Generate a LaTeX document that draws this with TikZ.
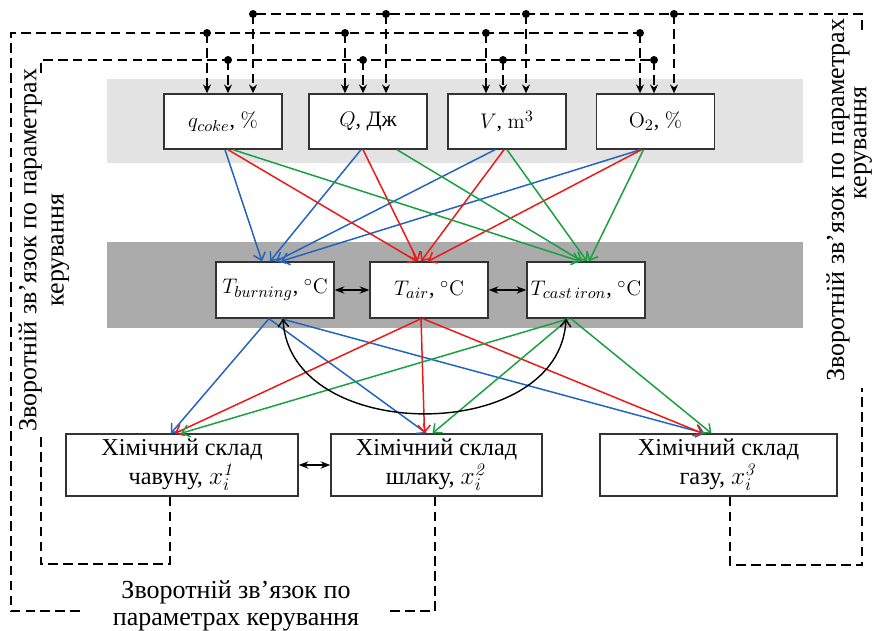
\documentclass[tikz,border=0pt]{standalone}
\usepackage[no-math]{fontspec}
\setmainfont{Liberation Serif}
\usetikzlibrary{arrows.meta,calc}
\definecolor{bandlight}{RGB}{227,227,227}
\definecolor{banddark}{RGB}{171,171,171}
\definecolor{lnblue}{RGB}{35,100,190}
\definecolor{lnred}{RGB}{235,25,25}
\definecolor{lngreen}{RGB}{25,160,65}

\begin{document}
\begin{tikzpicture}[x=0.02cm,y=-0.02cm,
  font=\fontsize{14.8}{15.5}\selectfont,
  box/.style={draw=black!80, line width=0.8pt, fill=white,
    minimum width=2.36cm, minimum height=1.1cm, inner sep=2pt,
    font=\fontsize{12.5}{14}\selectfont},
  mid box/.style={box, minimum height=1.12cm},
  wide box/.style={box, minimum height=1.24cm, align=center,
    font=\fontsize{13.8}{14.5}\selectfont},
  fb line/.style={line width=1pt, dash pattern=on 5.5pt off 3pt},
  fb arrow/.style={fb line, -{Stealth[length=5pt,width=4.5pt]}},
  link/.style={line width=0.85pt, -{Straight Barb[length=4pt,width=7pt]}},
  both/.style={line width=1.3pt, {Stealth[length=5.5pt]}-{Stealth[length=5.5pt]}},
  ]
  \useasboundingbox (0,0) rectangle (878,631);

  % bands
  \fill[bandlight] (107,79) rectangle (803,163);
  \fill[banddark] (107,242) rectangle (803,328);

  % control parameters
  \node[box] (qc) at (223,121.5) {$q_{coke}$, $\%$};
  \node[box] (Qh) at (368,121.5) {$Q$, Дж};
  \node[box] (Vm) at (507,121.5) {$V$, $\mathrm{m}^3$};
  \node[box] (Ox) at (655.5,121.5) {$\mathrm{O}_2$, $\%$};

  % temperatures
  \node[mid box] (Tb) at (275,290) {$T_{burning}$, ${}^\circ\mathrm{C}$};
  \node[mid box] (Ta) at (429,290) {$T_{air}$, ${}^\circ\mathrm{C}$};
  \node[mid box] (Tc) at (586,290) {$T_{cast\,iron}$, ${}^\circ\mathrm{C}$};

  % chemical composition
  \node[wide box, minimum width=4.64cm] (X1) at (182,465) {Хімічний склад\\[2pt]чавуну, $x_i^{\mathit{1}}$};
  \node[wide box, minimum width=4.22cm] (X2) at (436.5,465) {Хімічний склад\\[2pt]шлаку, $x_i^{\mathit{2}}$};
  \node[wide box, minimum width=4.74cm] (X3) at (718.5,465) {Хімічний склад\\[2pt]газу, $x_i^{\mathit{3}}$};

  % parameters -> temperatures
  \foreach \src/\dx/\tx in {qc/2/-13, Qh/-7/-5, Vm/-12/1, Ox/-15/6}
    \draw[link, lnblue] ($(\src.south)+(\dx,0)$) -- ($(Tb.north)+(\tx,0)$);
  \foreach \src/\dx/\tx in {qc/5/-12, Qh/-5/-11, Vm/-3/-8, Ox/-14/-1}
    \draw[link, lnred] ($(\src.south)+(\dx,0)$) -- ($(Ta.north)+(\tx,0)$);
  \foreach \src/\dx/\tx in {qc/10/-6, Qh/29/-4, Vm/0/1, Ox/-12/3}
    \draw[link, lngreen] ($(\src.south)+(\dx,0)$) -- ($(Tc.north)+(\tx,0)$);

  % temperatures -> composition
  \foreach \dst/\dx/\tx in {X1/-6/-11, X2/-6/-10, X3/6/-14}
    \draw[link, lnblue] ($(Tb.south)+(\dx,0)$) -- ($(\dst.north)+(\tx,0)$);
  \foreach \dst/\dx/\tx in {X1/-8/-7, X2/-8/-12, X3/-6/-16}
    \draw[link, lnred] ($(Ta.south)+(\dx,0)$) -- ($(\dst.north)+(\tx,0)$);
  \foreach \dst/\dx/\tx in {X1/-17/-1, X2/-17/-4, X3/-15/-7}
    \draw[link, lngreen] ($(Tc.south)+(\dx,0)$) -- ($(\dst.north)+(\tx,0)$);

  \draw[line width=0.8pt, {Straight Barb[length=4pt,width=6pt]}-{Straight Barb[length=4pt,width=6pt]}]
    ($(Tb.south)+(8,0)$) .. controls (290,445) and (560,445) .. ($(Tc.south)+(-20,0)$);

  \draw[both] (Tb.east) -- (Ta.west);
  \draw[both] (Ta.east) -- (Tc.west);
  \draw[both] (X1.east) -- (X2.west);

  % feedback
  \coordinate (a1) at (253,14); \coordinate (a2) at (386,14);
  \coordinate (a3) at (526,14); \coordinate (a4) at (674,14);
  \coordinate (b1) at (207,33); \coordinate (b2) at (345,33);
  \coordinate (b3) at (486,33); \coordinate (b4) at (640,33);
  \coordinate (c1) at (228,60); \coordinate (c2) at (363,60);
  \coordinate (c3) at (503,60); \coordinate (c4) at (654,60);

  \draw[fb line] ($(X3.south)+(11.5,0)$) |- (862,565) -- (862,388);
  \draw[fb line] (862,30) |- (a1);
  \draw[fb line] ($(X2.south)+(-1.5,0)$) |- (387,611);
  \draw[fb line] (80,611) -| (11,33) -- (b4);
  \draw[fb line] ($(X1.south)+(-12,0)$) |- (41,564) -- (41,437);
  \draw[fb line] (41,73) |- (c4);

  \foreach \d/\b in {a1/qc, a2/Qh, a3/Vm, a4/Ox, b1/qc, b2/Qh, b3/Vm, b4/Ox,
                     c1/qc, c2/Qh, c3/Vm, c4/Ox} {
    \fill (\d) circle[radius=0.08cm];
    \draw[fb arrow] (\d) -- (\d |- \b.north);
  }

  \node[align=center] (fbbot) at (236,606) {Зворотній зв’язок по\\параметрах керування};
  \node[rotate=90, align=center] (fbleft) at (44,250) {Зворотній зв’язок по параметрах\\керування};
  \node[rotate=90] (fbright) at (838,200) {Зворотній зв’язок по параметрах};
  \node[rotate=90] (fbright2) at (863,143) {керування};
\end{tikzpicture}
\end{document}
